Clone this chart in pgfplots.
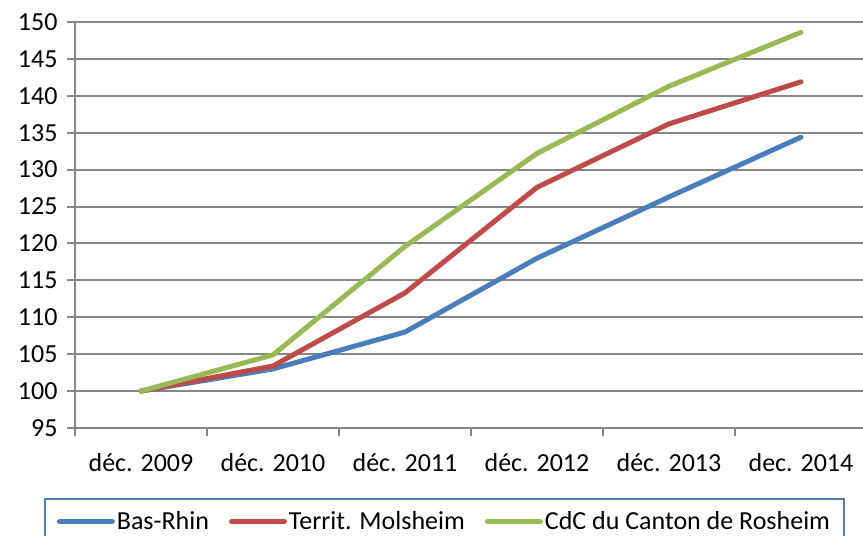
\documentclass[border=0pt]{standalone}
\usepackage{pgfplots}
\pgfplotsset{compat=1.18}
\usepackage{fontspec}
\setmainfont{Carlito}
\definecolor{cblue}{HTML}{4A7EBB}
\definecolor{cred}{HTML}{BE4B48}
\definecolor{cgreen}{HTML}{98B954}
\definecolor{cgrid}{HTML}{868686}
\definecolor{clegend}{HTML}{4F7DB5}
\begin{document}
\begin{tikzpicture}[x=1pt,y=1pt]
\useasboundingbox (0,0) rectangle (863,536);
\clip (0,0) rectangle (863,536);
\begin{axis}[
  at={(75pt,108pt)}, anchor=south west,
  scale only axis, width=792pt, height=406pt,
  xmin=0.5, xmax=6.5, ymin=95, ymax=150,
  ytick={95,100,...,150},
  xtick={1,2,3,4,5,6},
  xticklabels={déc. 2009, déc. 2010, déc. 2011, déc. 2012, déc. 2013, dec. 2014},
  minor xtick={0.5,1.5,...,6.5},
  axis x line=bottom, axis y line=left,
  axis line style={-, cgrid, line width=2pt},
  tick align=outside,
  major tick length=8pt, minor tick length=8pt,
  x tick style={draw=none},
  minor x tick style={draw=cgrid, line width=2pt},
  y tick style={cgrid, line width=2pt},
  ymajorgrids, major grid style={cgrid, line width=2pt},
  /pgf/number format/assume math mode=true,
  tick label style={font=\fontsize{26pt}{31pt}\selectfont},
  xticklabel style={yshift=-14pt},
  yticklabel style={xshift=-6pt},
  legend columns=3,
  legend style={at={(0.4665,-0.1725)}, anchor=north, draw=clegend, line width=1.5pt,
    font=\fontsize{26pt}{31pt}\selectfont, inner xsep=12pt, inner ysep=11pt,
    /tikz/every even column/.append style={column sep=18pt}},
  legend image code/.code={\draw[#1] (0pt,0pt) -- (53pt,0pt);},
  every axis plot/.append style={line width=5pt, line cap=round, line join=round},
]
\addplot[cblue] coordinates {(1,100) (2,103.0) (3,108.0) (4,118.0) (5,126.3) (6,134.4)};
\addplot[cred] coordinates {(1,100) (2,103.4) (3,113.3) (4,127.6) (5,136.2) (6,141.9)};
\addplot[cgreen] coordinates {(1,100) (2,104.9) (3,119.6) (4,132.2) (5,141.3) (6,148.6)};
\legend{Bas-Rhin, Territ. Molsheim, CdC du Canton de Rosheim}
\end{axis}
\end{tikzpicture}
\end{document}
